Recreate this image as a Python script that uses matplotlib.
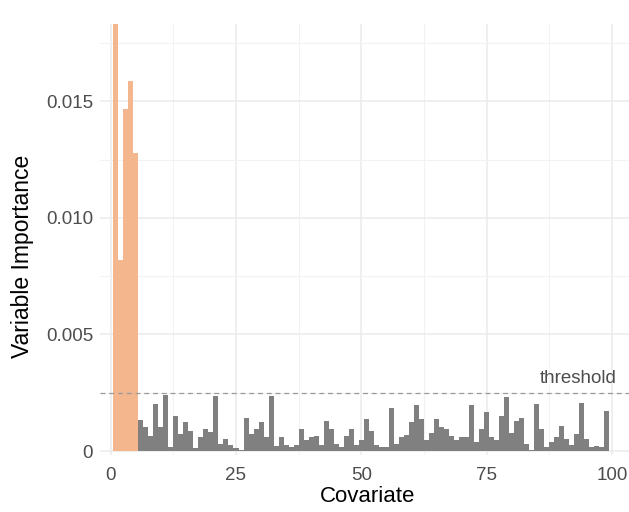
import numpy as np
import matplotlib
matplotlib.use("Agg")
import matplotlib.pyplot as plt
from matplotlib.ticker import MultipleLocator, FixedLocator

plt.rcParams['font.family'] = ['Liberation Sans', 'DejaVu Sans']

# variable importance of the 5 true signal covariates (highlighted)
signal_importance = [0.01832, 0.00819, 0.01467, 0.01589, 0.01278]

noise_importance = [
    0.00133, 0.00103, 0.00063, 0.00202, 0.00104, 0.00239, 0.00019, 0.00149,
    0.00073, 0.00126, 0.00087, 0.00013, 0.00060, 0.00093, 0.00080, 0.00235,
    0.00031, 0.00051, 0.00027, 0.00014, 0.00006, 0.00140, 0.00073, 0.00096,
    0.00123, 0.00059, 0.00235, 0.00020, 0.00059, 0.00027, 0.00016, 0.00027,
    0.00096, 0.00047, 0.00060, 0.00063, 0.00027, 0.00130, 0.00094, 0.00031,
    0.00016, 0.00063, 0.00096, 0.00027, 0.00047, 0.00137, 0.00087, 0.00027,
    0.00019, 0.00019, 0.00184, 0.00030, 0.00059, 0.00070, 0.00123, 0.00199,
    0.00139, 0.00049, 0.00077, 0.00139, 0.00103, 0.00096, 0.00063, 0.00049,
    0.00059, 0.00059, 0.00199, 0.00037, 0.00094, 0.00166, 0.00059, 0.00049,
    0.00149, 0.00230, 0.00077, 0.00127, 0.00142, 0.00031, 0.00006, 0.00203,
    0.00096, 0.00016, 0.00037, 0.00060, 0.00109, 0.00053, 0.00027, 0.00073,
    0.00206, 0.00051, 0.00016, 0.00020, 0.00016, 0.00170,
]

threshold = 0.0025
x_ticks = [0, 25, 50, 75, 100]
y_ticks = [0, 0.005, 0.010, 0.015]
y_tick_labels = ['0', '0.005', '0.010', '0.015']

importance = np.array(signal_importance + noise_importance)
covariate = np.arange(1, len(importance) + 1)
n_sig = len(signal_importance)

colors = ['#F4B68D'] * n_sig + ['#808080'] * (len(importance) - n_sig)

fig = plt.figure(figsize=(6.29, 5.12), dpi=100)
ax = fig.add_axes([100 / 629, 57 / 512, 529 / 629, 431 / 512])

ax.bar(covariate, importance, width=1.0, color=colors, linewidth=0, zorder=2)
ax.axhline(threshold, color='#9A9A9A', linestyle=(0, (4, 3)), linewidth=0.9, zorder=3)
ax.text(101.0, threshold + 0.00025, 'threshold', ha='right', va='bottom',
        fontsize=13.5, color='#4D4D4D')

ax.set_xlim(-2.13, 103.4)
ax.set_ylim(-0.00017, 0.01832)

ax.xaxis.set_major_locator(FixedLocator(x_ticks))
ax.xaxis.set_minor_locator(MultipleLocator(12.5))
ax.set_yticks(y_ticks)
ax.set_yticklabels(y_tick_labels)
ax.yaxis.set_minor_locator(MultipleLocator(0.0025))

ax.grid(which='major', color='#EBEBEB', linewidth=1.1, zorder=0)
ax.grid(which='minor', color='#F2F2F2', linewidth=0.8, zorder=0)
ax.set_axisbelow(True)
for s in ax.spines.values():
    s.set_visible(False)

ax.tick_params(which='both', length=0)
ax.tick_params(axis='x', labelsize=13.5, labelcolor='#4D4D4D', pad=9)
ax.tick_params(axis='y', labelsize=13.5, labelcolor='#4D4D4D', pad=5)

ax.set_xlabel('Covariate', fontsize=16, color='black')
ax.set_ylabel('Variable Importance', fontsize=16.5, color='black')
ax.xaxis.set_label_coords(0.5057, -0.071)
ax.yaxis.set_label_coords(-0.124, 0.462)

fig.savefig('out.png', dpi=100)
